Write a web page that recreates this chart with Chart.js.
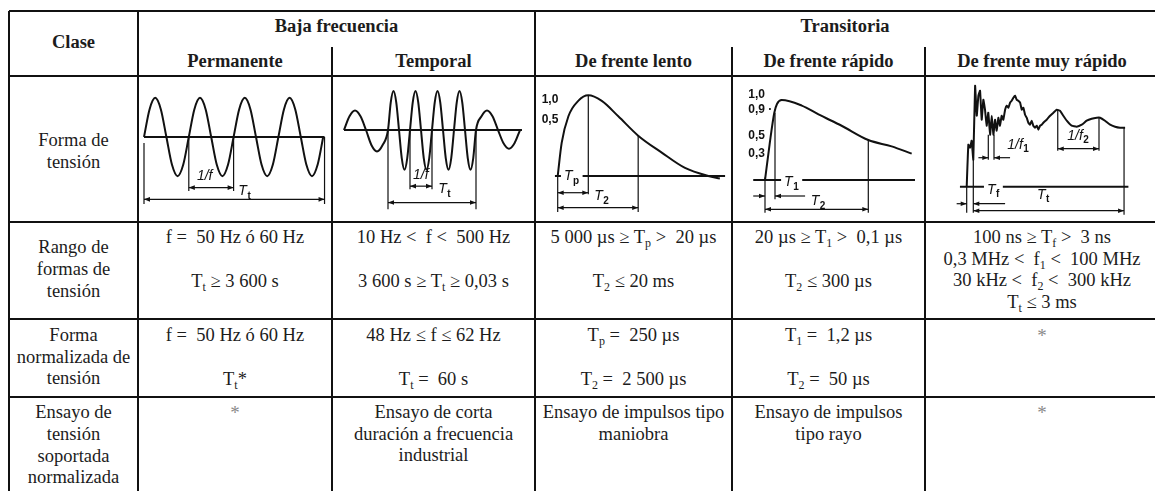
<!DOCTYPE html>
<html><head><meta charset="utf-8">
<script src="https://cdn.jsdelivr.net/npm/chart.js"></script>
<style>
html,body{margin:0;padding:0;background:#fff;}
body{width:1155px;height:491px;position:relative;overflow:hidden;font-family:"Liberation Serif","Times New Roman",serif;color:#1c1c1c;}
.h{position:absolute;height:2px;background:#111;}
.v{position:absolute;width:2px;background:#111;}
.t{position:absolute;white-space:pre;text-align:center;font-size:18.5px;line-height:21.5px;transform:translateX(-50%);}
.b{font-weight:bold;}
.star{color:#8a8a8a;font-size:19px;}
sub{font-size:12px;vertical-align:-4px;line-height:0;}
canvas{position:absolute;}
</style></head><body>
<script>
// ---------------- DATA ----------------
const cornerHeader = 'Clase';
const groupHeaders = ['Baja frecuencia', 'Transitoria'];
const classNames = ['Permanente', 'Temporal', 'De frente lento', 'De frente rápido', 'De frente muy rápido'];
const rowLabels = [
  ['Forma de', 'tensión'],
  ['Rango de', 'formas de', 'tensión'],
  ['Forma', 'normalizada de', 'tensión'],
  ['Ensayo de', 'tensión', 'soportada', 'normalizada']
];
const rangeRow = [
  ['f =  50 Hz ó 60 Hz', 'T_t ≥ 3 600 s'],
  ['10 Hz <  f <  500 Hz', '3 600 s ≥ T_t ≥ 0,03 s'],
  ['5 000 µs ≥ T_p >  20 µs', 'T_2 ≤ 20 ms'],
  ['20 µs ≥ T_1 >  0,1 µs', 'T_2 ≤ 300 µs'],
  ['100 ns ≥ T_f >  3 ns', '0,3 MHz <  f_1 <  100 MHz', '30 kHz <  f_2 <  300 kHz', 'T_t ≤ 3 ms']
];
const standardRow = [
  ['f =  50 Hz ó 60 Hz', 'T_t*'],
  ['48 Hz ≤ f ≤ 62 Hz', 'T_t =  60 s'],
  ['T_p =  250 µs', 'T_2 =  2 500 µs'],
  ['T_1 =  1,2 µs', 'T_2 =  50 µs'],
  ['*']
];
const testRow = [
  ['*'],
  ['Ensayo de corta', 'duración a frecuencia', 'industrial'],
  ['Ensayo de impulsos tipo', 'maniobra'],
  ['Ensayo de impulsos', 'tipo rayo'],
  ['*']
];

// Waveforms: [time, voltage p.u.]
const permanenteWave = [[0,0],[2.5,0.71],[5,1],[7.5,0.71],[10,0],[12.5,-0.71],[15,-1],[17.5,-0.71],[20,0],[22.5,0.71],[25,1],[27.5,0.71],[30,0],[32.5,-0.71],[35,-1],[37.5,-0.71],[40,0],[42.5,0.71],[45,1],[47.5,0.71],[50,0],[52.5,-0.71],[55,-1],[57.5,-0.71],[60,0],[62.5,0.71],[65,1],[67.5,0.71],[70,0],[72.5,-0.71],[75,-1],[77.5,-0.71],[80,0]];
const temporalWave = [[0,0],[2.5,0.35],[5,0.5],[7.5,0.35],[10,0],[12.5,-0.39],[15,-0.55],[17.5,-0.39],[20,0],[21.25,0.71],[22.5,1],[23.75,0.71],[25,0],[26.25,-0.72],[27.5,-1.02],[28.75,-0.72],[30,0],[31.25,0.71],[32.5,1],[33.75,0.71],[35,0],[36.25,-0.72],[37.5,-1.02],[38.75,-0.72],[40,0],[41.25,0.71],[42.5,1],[43.75,0.71],[45,0],[46.25,-0.72],[47.5,-1.02],[48.75,-0.72],[50,0],[51.25,0.71],[52.5,1],[53.75,0.71],[55,0],[56.25,-0.72],[57.5,-1.02],[58.75,-0.72],[60,0],[62.5,0.35],[65,0.5],[67.5,0.35],[70,0],[72.5,-0.34],[75,-0.48],[77.5,-0.34],[80,0]];
const lentoWave = [[0,0],[1.3,0.41],[3.5,0.74],[6.7,0.93],[10,1],[14.4,0.93],[19.8,0.74],[26.3,0.5],[34,0.29],[41.6,0.1],[49.2,0],[53,-0.03]];
const rapidoWave = [[0,0],[2.2,0.44],[4.5,0.84],[5.8,0.95],[8.1,1],[17.8,0.93],[25.9,0.82],[37.3,0.675],[50,0.5],[61.3,0.42],[71,0.33]];
const muyRapidoWave = [[0,0],[1.1,0.42],[2.2,0.39],[3.3,0.46],[4.4,0.27],[5.6,1.01],[6.7,0.71],[7.8,0.91],[8.9,0.96],[10,0.67],[11.1,0.87],[12.2,0.77],[13.3,0.61],[14.4,0.74],[15.6,0.52],[16.7,0.71],[17.8,0.52],[18.9,0.67],[20,0.56],[21.1,0.69],[22.2,0.61],[23.3,0.71],[24.4,0.67],[25.6,0.77],[26.7,0.81],[27.8,0.79],[28.9,0.84],[30,0.86],[31.1,0.89],[32.2,0.91],[33.3,0.87],[34.4,0.86],[35.6,0.84],[36.7,0.77],[37.8,0.79],[38.9,0.72],[40,0.69],[41.1,0.64],[42.2,0.62],[43.3,0.66],[44.4,0.61],[45.6,0.59],[46.7,0.61],[47.8,0.57],[48.9,0.61],[50,0.62],[51.1,0.64],[53.3,0.67],[55.6,0.71],[57.8,0.74],[60,0.77],[62.2,0.76],[64.4,0.71],[66.7,0.66],[70,0.61],[73.3,0.6],[76.7,0.62],[80,0.66],[83.3,0.68],[86.7,0.69],[88.9,0.69],[92.2,0.66],[95.6,0.62],[98.9,0.6],[102.2,0.59],[105.6,0.59]];

// Zero lines [t0, t1]
const permanenteBase = [0, 80.6];
const temporalBase = [0, 80.9];
const lentoBase = [-0.9, 54.7];
const rapidoBase = [-5.7, 72.6];
const muyRapidoBase = [-4.5, 107.8];

// Extension lines [t, v0, v1]
const permanenteExt = [[0,-0.15,-1.71],[80.6,0,-1.71],[20,0,-1.38],[40,0,-1.38]];
const temporalExt = [[20,0,-2.03],[60,0,-2.03],[30,0,-1.52],[40,0,-1.52]];
const lentoExt = [[0,0,-0.446],[10,1,-0.227],[26.3,0.5,-0.446]];
const rapidoExt = [[0,0.03,-0.41],[4.84,0.84,-0.24],[50,0.5,-0.41]];
const muyRapidoExt = [[14.4,0.52,0.27],[18.2,0.52,0.27],[60.7,0.77,0.36],[88.2,0.69,0.36],[0,0,-0.26],[4.4,0.27,-0.26],[104.9,0.59,-0.28]];

// Dimension lines [t0, t1, v] (arrows both ends) or [t0, t1, v, tLeft, tRight] (arrows from outside)
const permanenteDims = [[0,80.6,-1.59],[20,40,-1.29]];
const temporalDims = [[20,60,-1.86],[30,40,-1.44]];
const lentoDims = [[0,10,-0.207],[0,26.3,-0.393]];
const rapidoDims = [[0,4.84,-0.2,-5.7,19.4],[0,50,-0.366]];
const muyRapidoDims = [[14.4,18.2,0.29,7.8,28.9],[60.7,88.2,0.38],[0,4.4,-0.17,-6.7,25.6],[4.4,104.9,-0.24]];

// Labels [text, t, v, kind]  kind: v = value tick, s = symbol, g = symbol on zero line
const permanenteLabels = [['1/f',27.1,-1.0,'s'],['T_t',45,-1.38,'s']];
const temporalLabels = [['1/f',34.9,-1.16,'s'],['T_t',45.8,-1.52,'s']];
const lentoLabels = [['1,0',-5.25,0.95,'v'],['0,5',-5.25,0.70,'v'],['T_p',4.6,0,'g'],['T_2',14.4,-0.248,'s']];
const rapidoLabels = [['1,0',-8.1,1.07,'v'],['0,9 ·',-8.1,0.88,'v'],['0,5',-8.1,0.55,'v'],['0,3',-8.1,0.33,'v'],['T_1',12.9,-0.025,'g'],['T_2',25.8,-0.26,'s']];
const muyRapidoLabels = [['1/f_1',34.4,0.42,'s'],['1/f_2',74.4,0.51,'s'],['T_f',17.8,-0.03,'g'],['T_t',51.1,-0.08,'s']];

// ---------------- LAYOUT ----------------
const INK = '#111';
const colCenters = [73.5, 235, 433.5, 633.5, 828.5, 1042];

function hLine(x0, x1, y){ const d=document.createElement('div'); d.className='h'; d.style.left=x0+'px'; d.style.width=(x1-x0)+'px'; d.style.top=(y-1)+'px'; document.body.appendChild(d); }
function vLine(x, y0, y1){ const d=document.createElement('div'); d.className='v'; d.style.left=(x-1)+'px'; d.style.top=y0+'px'; d.style.height=(y1-y0)+'px'; document.body.appendChild(d); }
function esc(s){ return s.replace(/&/g,'&amp;').replace(/</g,'&lt;').replace(/>/g,'&gt;'); }
function fmt(s){ return esc(s).replace(/([A-Za-z])_([A-Za-z0-9])/g, '$1<sub>$2</sub>'); }
function addText(lines, cx, y0, gap, cls){
  lines.forEach((s,i)=>{
    const d=document.createElement('div');
    d.className='t '+(cls||'')+(s==='*'?' star':'');
    d.innerHTML=fmt(s);
    d.style.left=cx+'px';
    d.style.top=(y0+i*gap-11)+'px';
    document.body.appendChild(d);
  });
}

// grid
[11,76,222,319,397].forEach(y=>hLine(9,1155,y));
vLine(9,11,491); vLine(138,11,491); vLine(535,11,491);
vLine(332,47,491); vLine(732,47,491); vLine(925,47,491);

// headers
addText([cornerHeader], colCenters[0], 43, 0, 'b');
addText([groupHeaders[0]], (138+535)/2, 27, 0, 'b');
addText([groupHeaders[1]], 845, 27, 0, 'b');
classNames.forEach((c,i)=>addText([c], colCenters[i+1], 62, 0, 'b'));

// row labels
const labelY = [141, 248.3, 336, 413.3];
rowLabels.forEach((l,i)=>addText(l, colCenters[0], labelY[i], 21.7));

// body rows
rangeRow.forEach((l,i)=>addText(l, colCenters[i+1], 238, l.length===2?44:21.5));
standardRow.forEach((l,i)=>addText(l, colCenters[i+1], 336, 44));
testRow.forEach((l,i)=>addText(l, colCenters[i+1], 413.3, 21.3));

// ---------------- CHARTS ----------------
function head(ctx, x, y, dir){
  ctx.beginPath(); ctx.moveTo(x,y); ctx.lineTo(x-dir*6,y-2.3); ctx.lineTo(x-dir*6,y+2.3); ctx.closePath(); ctx.fill();
}
function seg(ctx,x0,y0,x1,y1){ ctx.beginPath(); ctx.moveTo(x0,y0); ctx.lineTo(x1,y1); ctx.stroke(); }
function drawLabel(ctx, l, x, y){
  const text=l[0], kind=l[3];
  ctx.textBaseline='middle';
  if(kind==='v'){
    ctx.font='bold 12px "Liberation Sans", Arial, sans-serif'; ctx.textAlign='left'; ctx.fillStyle=INK;
    ctx.fillText(text, x, y); return;
  }
  const parts=text.split('_'), main=parts[0], sub=parts[1];
  const fm='italic 14px "Liberation Sans", Arial, sans-serif', fs='bold 10px "Liberation Sans", Arial, sans-serif';
  ctx.font=fm; const wm=ctx.measureText(main).width;
  ctx.font=fs; const ws=sub?ctx.measureText(sub).width+1:0;
  const w=wm+ws, x0=x-w/2;
  if(kind==='g'){ ctx.fillStyle='#fff'; ctx.fillRect(x0-3,y-7,w+6,14); }
  ctx.fillStyle=INK; ctx.textAlign='left';
  ctx.font=fm; ctx.fillText(main, x0, y);
  if(sub){ ctx.font=fs; ctx.fillText(sub, x0+wm+0.5, y+5); }
}
function annotPlugin(p){
  return { id:'annot', afterDatasetsDraw(chart){
    const ctx=chart.ctx, X=chart.scales.x, Y=chart.scales.y;
    const px=t=>X.getPixelForValue(t), py=v=>Y.getPixelForValue(v);
    ctx.save(); ctx.strokeStyle=INK; ctx.fillStyle=INK; ctx.lineWidth=1.2;
    p.dims.forEach(d=>{
      const y=py(d[2]);
      if(d.length===3){ seg(ctx,px(d[0]),y,px(d[1]),y); head(ctx,px(d[0]),y,-1); head(ctx,px(d[1]),y,1); }
      else { seg(ctx,px(d[3]),y,px(d[0]),y); head(ctx,px(d[0]),y,1); seg(ctx,px(d[4]),y,px(d[1]),y); head(ctx,px(d[1]),y,-1); }
    });
    p.labels.forEach(l=>drawLabel(ctx,l,px(l[1]),py(l[2])));
    ctx.restore();
  }};
}
const panels = [
  {box:[138,76,194,146], x:[-2.679,83.93], y:[-2.168,1.556], wave:permanenteWave, base:permanenteBase, ext:permanenteExt, dims:permanenteDims, labels:permanenteLabels, mono:true},
  {box:[332,76,203,146], x:[-5.455,86.818], y:[-2.359,1.385], wave:temporalWave, base:temporalBase, ext:temporalExt, dims:temporalDims, labels:temporalLabels, mono:true},
  {box:[535,76,197,146], x:[-7.418,56.961], y:[-0.570,1.239], wave:lentoWave, base:lentoBase, ext:lentoExt, dims:lentoDims, labels:lentoLabels, mono:true},
  {box:[732,76,193,146], x:[-15.973,77.444], y:[-0.525,1.3], wave:rapidoWave, base:rapidoBase, ext:rapidoExt, dims:rapidoDims, labels:rapidoLabels, mono:true},
  {box:[925,76,230,146], x:[-27.8,125.533], y:[-0.353,1.107], wave:muyRapidoWave, base:muyRapidoBase, ext:muyRapidoExt, dims:muyRapidoDims, labels:muyRapidoLabels, mono:false}
];
panels.forEach(p=>{
  const cv=document.createElement('canvas');
  cv.width=p.box[2]; cv.height=p.box[3];
  cv.style.left=p.box[0]+'px'; cv.style.top=p.box[1]+'px';
  cv.style.width=p.box[2]+'px'; cv.style.height=p.box[3]+'px';
  document.body.appendChild(cv);
  const datasets=[
    {data:p.wave.map(a=>({x:a[0],y:a[1]})), borderColor:INK, borderWidth:2, pointRadius:0, fill:false, clip:false,
     cubicInterpolationMode:p.mono?'monotone':'default', tension:p.mono?0.4:0.1},
    {data:[{x:p.base[0],y:0},{x:p.base[1],y:0}], borderColor:INK, borderWidth:2, pointRadius:0, fill:false, clip:false}
  ];
  p.ext.forEach(e=>datasets.push({data:[{x:e[0],y:e[1]},{x:e[0],y:e[2]}], borderColor:INK, borderWidth:1.2, pointRadius:0, fill:false, clip:false}));
  new Chart(cv,{
    type:'line',
    data:{datasets},
    options:{
      responsive:false, animation:false, devicePixelRatio:1, events:[],
      layout:{padding:0},
      plugins:{legend:{display:false}, tooltip:{enabled:false}},
      scales:{
        x:{type:'linear', display:false, min:p.x[0], max:p.x[1]},
        y:{type:'linear', display:false, min:p.y[0], max:p.y[1]}
      }
    },
    plugins:[annotPlugin(p)]
  });
});
</script>
</body></html>
